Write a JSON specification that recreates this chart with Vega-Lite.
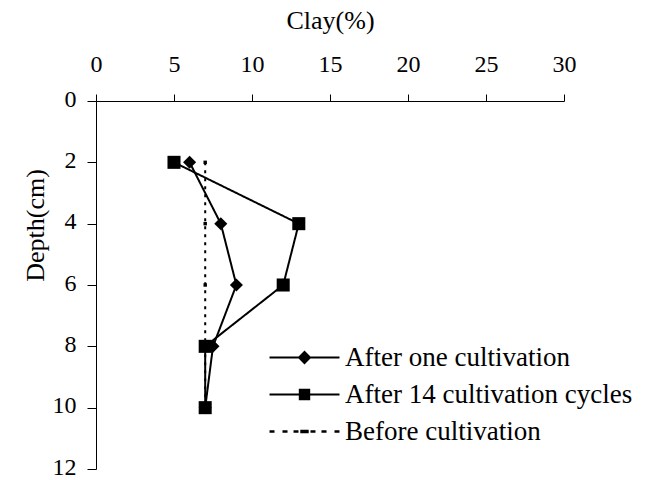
{
  "$schema": "https://vega.github.io/schema/vega-lite/v6.json",
  "width": 468,
  "height": 368,
  "autosize": {"type": "none"},
  "padding": {"left": 96, "top": 101, "right": 83, "bottom": 11},
  "background": "white",
  "config": {
    "view": {"stroke": null},
    "font": "Liberation Serif",
    "axis": {
      "grid": false,
      "labelFlush": false,
      "domainColor": "black",
      "domainWidth": 1,
      "tickColor": "black",
      "tickWidth": 1,
      "labelFont": "Liberation Serif",
      "labelFontSize": 24,
      "labelColor": "black",
      "titleFont": "Liberation Serif",
      "titleFontSize": 26,
      "titleFontWeight": "normal",
      "titleColor": "black"
    }
  },
  "data": {
    "values": [
      {"series": "After one cultivation", "depth": 2, "clay": 6},
      {"series": "After one cultivation", "depth": 4, "clay": 8},
      {"series": "After one cultivation", "depth": 6, "clay": 9},
      {"series": "After one cultivation", "depth": 8, "clay": 7.5},
      {"series": "After one cultivation", "depth": 10, "clay": 7},
      {"series": "After 14 cultivation cycles", "depth": 2, "clay": 5},
      {"series": "After 14 cultivation cycles", "depth": 4, "clay": 13},
      {"series": "After 14 cultivation cycles", "depth": 6, "clay": 12},
      {"series": "After 14 cultivation cycles", "depth": 8, "clay": 7},
      {"series": "After 14 cultivation cycles", "depth": 10, "clay": 7},
      {"series": "Before cultivation", "depth": 2, "clay": 7},
      {"series": "Before cultivation", "depth": 4, "clay": 7},
      {"series": "Before cultivation", "depth": 6, "clay": 7},
      {"series": "Before cultivation", "depth": 8, "clay": 7},
      {"series": "Before cultivation", "depth": 10, "clay": 7}
    ]
  },
  "encoding": {
    "x": {
      "field": "clay",
      "type": "quantitative",
      "scale": {"domain": [0, 30], "nice": false, "zero": false},
      "axis": {
        "orient": "top",
        "title": "Clay(%)",
        "values": [0, 5, 10, 15, 20, 25, 30],
        "tickSize": 7,
        "labelPadding": 23,
        "labelBaseline": "alphabetic",
        "titleBaseline": "alphabetic",
        "titleY": -73
      }
    },
    "y": {
      "field": "depth",
      "type": "quantitative",
      "scale": {"domain": [0, 12], "reverse": true, "nice": false, "zero": false},
      "axis": {
        "title": "Depth(cm)",
        "values": [0, 2, 4, 6, 8, 10, 12],
        "tickSize": 9,
        "labelPadding": 11,
        "labelOffset": -2,
        "titleBaseline": "alphabetic",
        "titleX": -53,
        "titleY": 124
      }
    }
  },
  "layer": [
    {
      "mark": {"type": "line", "color": "black", "strokeWidth": 2},
      "encoding": {
        "order": {"field": "depth", "type": "quantitative"},
        "strokeDash": {
          "field": "series",
          "type": "nominal",
          "scale": {
            "domain": ["After one cultivation", "After 14 cultivation cycles", "Before cultivation"],
            "range": [[1, 0], [1, 0], [3, 5]]
          },
          "legend": null
        }
      }
    },
    {
      "transform": [{"filter": "datum.series !== 'Before cultivation'"}],
      "mark": {"type": "point", "filled": true, "color": "black", "opacity": 1, "size": 170},
      "encoding": {
        "shape": {
          "field": "series",
          "type": "nominal",
          "scale": {
            "domain": ["After one cultivation", "After 14 cultivation cycles", "Before cultivation"],
            "range": ["diamond", "square", "square"]
          },
          "legend": null
        }
      }
    },
    {
      "transform": [{"filter": "datum.series === 'Before cultivation' && datum.depth < 8"}],
      "mark": {"type": "point", "shape": "square", "filled": true, "color": "black", "opacity": 1, "size": 12},
      "encoding": {}
    },
    {
      "transform": [{"filter": "false"}],
      "mark": {"type": "point", "filled": true, "color": "black", "opacity": 1, "size": 144},
      "encoding": {
        "shape": {
          "field": "series",
          "type": "nominal",
          "scale": {
            "domain": ["After one cultivation", "After 14 cultivation cycles", "Before cultivation"],
            "range": [
              "M-5.83,-0.16L5.83,-0.16L5.83,0.16L-5.83,0.16ZM0,-1.15L1.15,0L0,1.15L-1.15,0Z",
              "M-5.83,-0.16L5.83,-0.16L5.83,0.16L-5.83,0.16ZM-0.95,-0.95L0.95,-0.95L0.95,0.95L-0.95,0.95Z",
              "M-5.83,-0.2L-5,-0.2L-5,0.2L-5.83,0.2ZM-3.67,-0.2L-2.83,-0.2L-2.83,0.2L-3.67,0.2ZM-1.83,-0.2L-1,-0.2L-1,0.2L-1.83,0.2ZM1,-0.2L1.83,-0.2L1.83,0.2L1,0.2ZM2.83,-0.2L3.67,-0.2L3.67,0.2L2.83,0.2ZM5,-0.2L5.83,-0.2L5.83,0.2L5,0.2ZM-0.7,-0.3L0.7,-0.3L0.7,0.3L-0.7,0.3Z"
            ]
          },
          "legend": {
            "orient": "none",
            "legendX": 195,
            "legendY": 243,
            "title": null,
            "padding": 0,
            "symbolSize": 144,
            "symbolOpacity": 1,
            "symbolFillColor": "black",
            "symbolStrokeColor": "black",
            "symbolStrokeWidth": 0,
            "labelFont": "Liberation Serif",
            "labelFontSize": 27,
            "labelColor": "black",
            "labelOffset": 27,
            "labelLimit": 400,
            "rowPadding": 9
          }
        }
      }
    }
  ],
  "resolve": {"scale": {"shape": "independent"}}
}
